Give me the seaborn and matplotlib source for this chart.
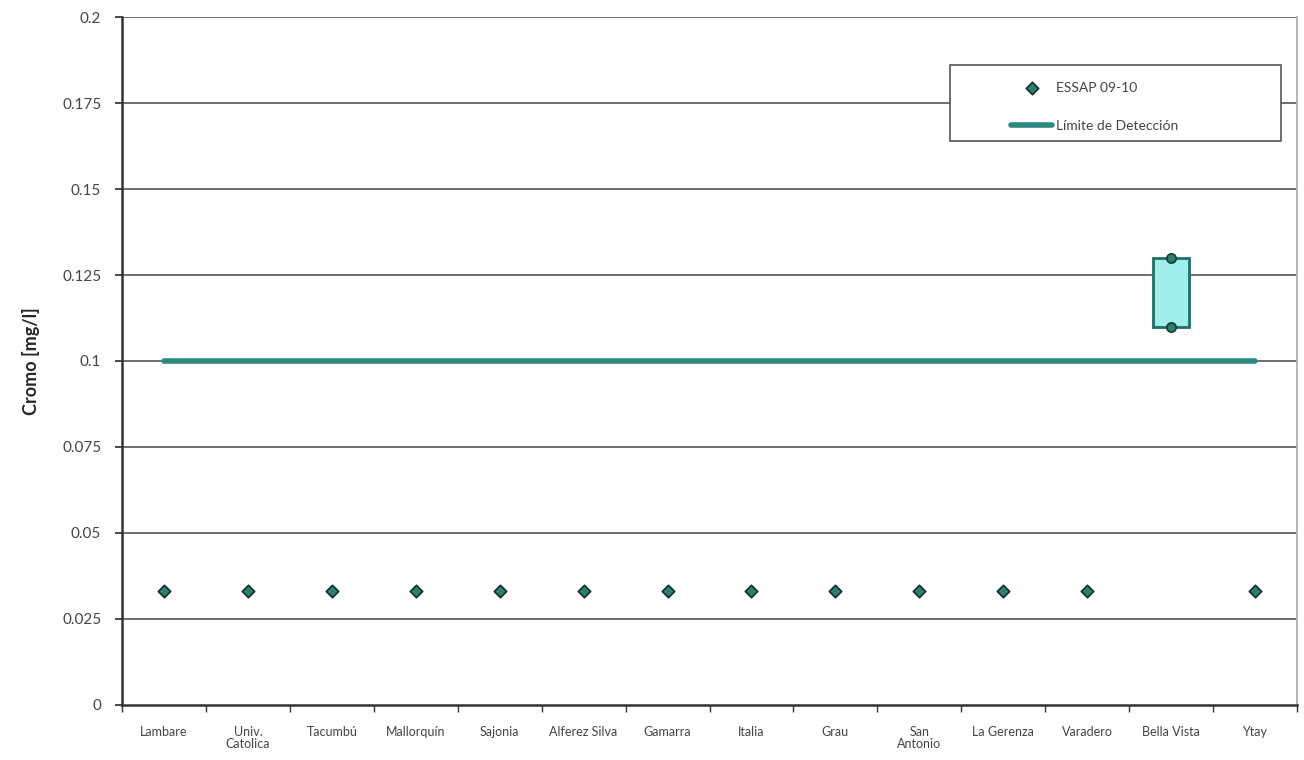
import numpy as np
import pandas as pd
import matplotlib
matplotlib.use("Agg")
import matplotlib.pyplot as plt
import seaborn as sns
from matplotlib.ticker import FixedLocator
from matplotlib.patches import Rectangle

sns.set_theme(style="white")
plt.rcParams['font.family'] = ['Lato', 'DejaVu Sans']

categories = ["Lambare", "Univ.\nCatolica", "Tacumbú", "Mallorquín", "Sajonia",
              "Alferez Silva", "Gamarra", "Italia", "Grau", "San\nAntonio",
              "La Gerenza", "Varadero", "Bella Vista", "Ytay"]
essap = [0.033, 0.033, 0.033, 0.033, 0.033, 0.033, 0.033, 0.033, 0.033, 0.033,
         0.033, 0.033, np.nan, 0.033]
limite = [0.1, 0.1, 0.1, 0.1, 0.1, 0.1, 0.1, 0.1, 0.1, 0.1, 0.1, 0.1, 0.1, 0.1]
range_cat = "Bella Vista"
range_min = [0.11]
range_max = [0.13]
yticks = [0, 0.025, 0.05, 0.075, 0.1, 0.125, 0.15, 0.175, 0.2]
ytick_labels = ["0", "0.025", "0.05", "0.075", "0.1", "0.125", "0.15", "0.175", "0.2"]

pos = np.arange(len(categories))
df = pd.DataFrame({"x": pos, "essap": essap, "limite": limite})

fig = plt.figure(figsize=(13.04, 7.6), dpi=100)
ax = fig.add_axes([0.0936, 0.0724, 0.9010, 0.9052])

# grid
for yv in yticks[1:]:
    ax.axhline(yv, color="#555555", lw=1.2, zorder=0)

# detection limit line
sns.lineplot(data=df, x="x", y="limite", ax=ax, color="#2b8a80", lw=4,
             label="Límite de Detección", zorder=3, legend=False)

# range box for Bella Vista
bx = categories.index(range_cat)
ax.bar([bx], [range_max[0] - range_min[0]], bottom=range_min, width=0.42,
       color="#9eeeec", edgecolor="#1f6f66", lw=2, zorder=4)
ax.scatter([bx, bx], [range_min[0], range_max[0]], s=45, color="#2e7d6e",
           edgecolor="#123d36", lw=1.2, zorder=5)

# ESSAP points
sns.scatterplot(data=df, x="x", y="essap", ax=ax, marker="D", s=40,
                color="#2e7d6e", edgecolor="#0f2f2a", linewidth=1.2, zorder=5,
                label="ESSAP 09-10", legend=False)

ax.set_xlim(-0.5, len(categories) - 0.5)
ax.set_ylim(0, 0.2)
ax.set_yticks(yticks)
ax.set_yticklabels(ytick_labels, fontsize=11, color="#444444")
ax.set_xticks(pos)
ax.set_xticklabels(categories, fontsize=9, color="#444444", linespacing=1.0)
ax.xaxis.set_minor_locator(FixedLocator(np.arange(-0.5, len(categories), 1.0)))
ax.tick_params(axis="x", which="major", length=0, pad=15)
ax.tick_params(axis="x", which="minor", length=5, color="#333333", direction="out", bottom=True)
ax.tick_params(axis="y", which="major", length=5, color="#333333", direction="out", left=True, pad=10)
ax.set_xlabel("")
ax.set_ylabel("Cromo [mg/l]", fontsize=13, fontweight="bold", labelpad=16)

for side in ["left", "bottom"]:
    ax.spines[side].set_color("#333333")
    ax.spines[side].set_linewidth(1.8)
ax.spines["top"].set_visible(False)
ax.spines["right"].set_color("#aaaaaa")
ax.spines["right"].set_linewidth(1.2)

# legend frame (decorative box)
ax.add_patch(Rectangle((0.705, 0.820), 0.281, 0.110, transform=ax.transAxes,
                       facecolor="white", edgecolor="#555555", lw=1.2, zorder=6))

handles, labels = ax.get_legend_handles_labels()
order = [labels.index("ESSAP 09-10"), labels.index("Límite de Detección")]
leg = ax.legend([handles[i] for i in order], [labels[i] for i in order],
                loc="upper left", bbox_to_anchor=(0.757, 0.906), fontsize=10,
                frameon=False, borderpad=0, labelspacing=1.9, handlelength=2.9,
                handletextpad=0.3, borderaxespad=0)
leg.set_zorder(7)
for t in leg.get_texts():
    t.set_color("#444444")

fig.savefig("out.png", dpi=100, facecolor="white")
